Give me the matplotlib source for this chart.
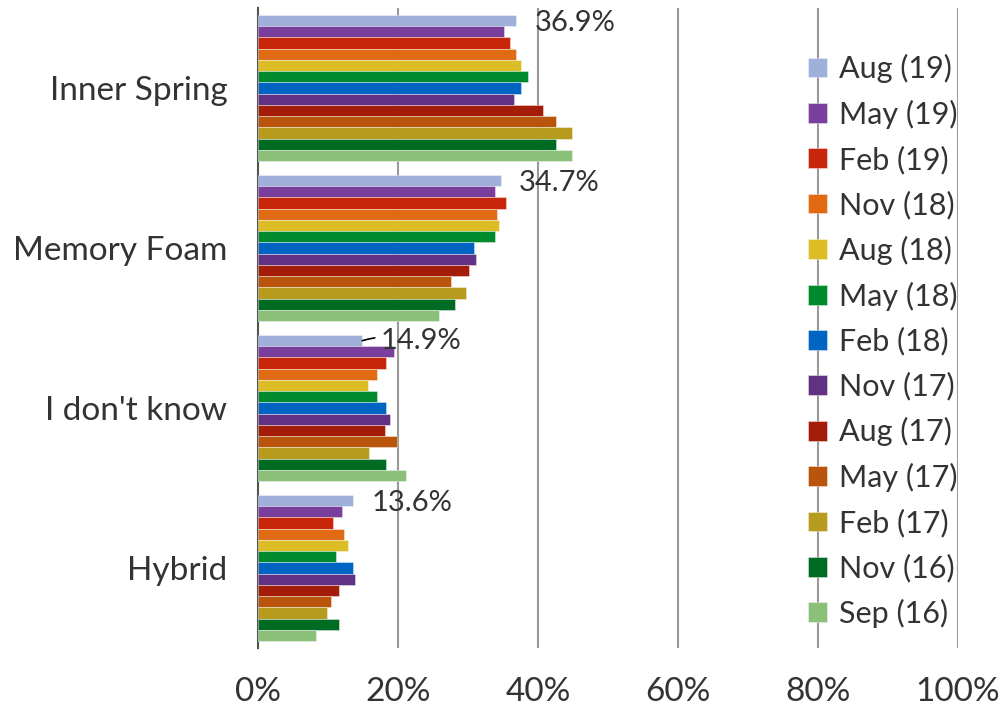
import matplotlib
matplotlib.use("Agg")
import matplotlib.pyplot as plt
import numpy as np

categories = ["Inner Spring", "Memory Foam", "I don't know", "Hybrid"]
series = ["Aug (19)", "May (19)", "Feb (19)", "Nov (18)", "Aug (18)", "May (18)",
          "Feb (18)", "Nov (17)", "Aug (17)", "May (17)", "Feb (17)", "Nov (16)", "Sep (16)"]
colors = ["#9FB0DA", "#7A3F9D", "#C8260A", "#E06B12", "#DDBD25", "#008A2E",
          "#0065C2", "#613283", "#A41D08", "#B8540B", "#B79B1F", "#006B22", "#8BC07A"]

# values in percent, one list per survey wave (order of categories above)
aug19 = [36.9, 34.7, 14.9, 13.6]
may19 = [35.1, 33.9, 19.4, 12.0]
feb19 = [36.0, 35.4, 18.3, 10.7]
nov18 = [36.9, 34.1, 17.0, 12.3]
aug18 = [37.5, 34.4, 15.7, 12.8]
may18 = [38.6, 33.9, 17.0, 11.2]
feb18 = [37.5, 30.9, 18.3, 13.6]
nov17 = [36.5, 31.2, 18.9, 13.9]
aug17 = [40.7, 30.2, 18.1, 11.5]
may17 = [42.5, 27.5, 19.9, 10.4]
feb17 = [44.9, 29.7, 15.9, 9.9]
nov16 = [42.5, 28.1, 18.3, 11.5]
sep16 = [44.9, 25.9, 21.2, 8.3]
values = [aug19, may19, feb19, nov18, aug18, may18, feb18, nov17, aug17, may17, feb17, nov16, sep16]

xticks = [0, 20, 40, 60, 80, 100]

plt.rcParams["font.family"] = ["Lato", "DejaVu Sans"]
text_color = "#333333"

fig = plt.figure(figsize=(10.03, 7.10), dpi=100)
ax = fig.add_axes([258 / 1003, 1 - 648 / 710, 700 / 1003, 640 / 710])

n = len(series)
group_h = 0.912
bar_h = group_h / n
y_centers = np.arange(len(categories))

for i, (name, col, vals) in enumerate(zip(series, colors, values)):
    ys = y_centers - group_h / 2 + bar_h * (i + 0.5)
    ax.barh(ys, vals, height=bar_h, color=col, edgecolor=(1, 1, 1, 0.45),
            linewidth=0.6, label=name, zorder=3)

# value labels for the most recent wave
first_vals = values[0]
for j, v in enumerate(first_vals):
    yb = y_centers[j] - group_h / 2 + bar_h * 0.5
    if j == 2:
        ax.annotate(f"{v:.1f}%", xy=(v, yb), xytext=(13, -0.5), textcoords="offset points",
                    fontsize=21, color=text_color, va="center", ha="left",
                    arrowprops=dict(arrowstyle="-", color="black", lw=1.2,
                                    shrinkA=2, shrinkB=0, connectionstyle="arc3,rad=0.15"),
                    zorder=5)
    else:
        ax.annotate(f"{v:.1f}%", xy=(v, yb), xytext=(13, -1.5), textcoords="offset points",
                    fontsize=21, color=text_color, va="center", ha="left", zorder=5)

ax.set_xlim(0, 100)
ax.set_ylim(len(categories) - 0.5, -0.5)
ax.set_yticks(y_centers)
ax.set_yticklabels(categories)
ax.set_xticks(xticks)
ax.set_xticklabels([f"{t}%" for t in xticks])
ax.tick_params(axis="both", length=0, labelsize=24, colors=text_color)
ax.tick_params(axis="x", pad=21)
ax.tick_params(axis="y", pad=22)

ax.xaxis.grid(True, color="#999999", linewidth=1.5, zorder=0)
ax.set_axisbelow(True)
for s in ["top", "right", "bottom"]:
    ax.spines[s].set_visible(False)
ax.spines["left"].set_color("#555555")
ax.spines["left"].set_linewidth(1.5)

leg = ax.legend(loc="upper left", bbox_to_anchor=(796 / 700 - 258 / 700, 1 - 34 / 640),
                frameon=False, fontsize=22, labelcolor=text_color,
                handlelength=0.62, handleheight=0.62, handletextpad=0.38,
                labelspacing=0.54, borderaxespad=0)

fig.savefig("out.png", dpi=100)
